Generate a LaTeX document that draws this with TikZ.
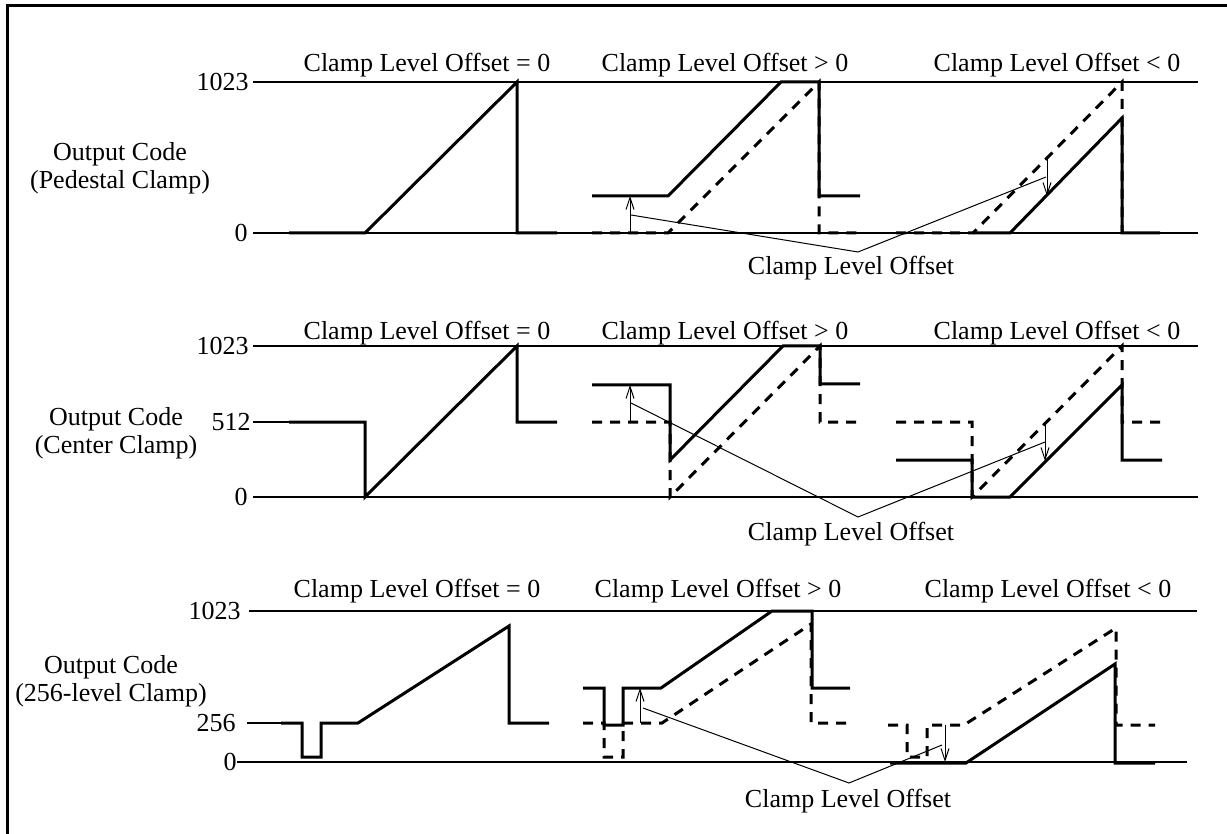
\documentclass[tikz,border=0pt]{standalone}
\usepackage{fontspec}
\setmainfont{Liberation Serif}
\usetikzlibrary{arrows.meta}
\tikzset{
  wave/.style={line width=1.5pt, line join=miter},
  ideal/.style={line width=1.5pt, dash pattern=on 5pt off 4pt},
  axis/.style={line width=1pt},
  lead/.style={line width=0.5pt},
  offarrow/.style={line width=0.5pt, -{Straight Barb[length=6pt,width=4pt]}},
  txt/.style={inner sep=0pt, font=\fontsize{13}{14}\selectfont}
}
% level label + horizontal level line
\newcommand{\codelevel}[6]{
  \node[txt, anchor=east] (#1) at (#3,#5) {#2};
  \draw[axis] ([xshift=#4]#1.east) -- (#6,#5);
}
\begin{document}
\begin{tikzpicture}[x=0.5pt,y=-0.5pt]
\useasboundingbox (0,0) rectangle (1227,834);
\draw[line width=1.5pt] (7.5,834) -- (7.5,6) -- (1227,6);

% titles of the three cases
\foreach \r/\yy/\xa/\xb/\xc in {A/65/427/725/1057,B/333/427/725/1057,C/591/417/718/1048}{
  \node[txt] (eq\r) at (\xa,\yy) {Clamp Level Offset = 0};
  \node[txt] (gt\r) at (\xb,\yy) {Clamp Level Offset > 0};
  \node[txt] (lt\r) at (\xc,\yy) {Clamp Level Offset < 0};
}

\node[txt, align=center] (nameA) at (120,168) {Output Code\\(Pedestal Clamp)};
\node[txt, align=center] (nameB) at (116,433) {Output Code\\(Center Clamp)};
\node[txt, align=center] (nameC) at (111,681) {Output Code\\(256-level Clamp)};

% pedestal clamp
\codelevel{hiA}{1023}{249}{2pt}{82}{1198}
\codelevel{loA}{0}{248}{2.5pt}{233}{1198}
\draw[wave] (289,233) -- (365,233) -- (517,82) -- (517,233) -- (557,233);
\draw[ideal] (592,233) -- (668,233) -- (819,82) -- (819,233) -- (860,233);
\draw[wave] (592,196) -- (668,196) -- (781,82) -- (819,82) -- (819,196) -- (860,196);
\draw[ideal] (896,233) -- (973,233) -- (1122,82) -- (1122,233);
\draw[wave] (973,233) -- (1010,233) -- (1122,118) -- (1122,233) -- (1160,233);
\coordinate (upA0) at (630,233);   \coordinate (upA1) at (630,196);
\coordinate (dnA0) at (1047,159);  \coordinate (dnA1) at (1047,196);
\draw[offarrow] (upA0) -- (upA1);
\draw[offarrow] (dnA0) -- (dnA1);
\coordinate (ftA1) at (631,215);
\coordinate (ftA2) at (1046,177);
\node[txt] (offA) at (851,268) {Clamp Level Offset};
\coordinate (vA) at (858,252);
\draw[lead] (ftA1) -- (vA) -- (ftA2);

% center clamp
\codelevel{hiB}{1023}{249}{2pt}{346}{1198}
\codelevel{midB}{512}{251}{1pt}{422}{289}
\codelevel{loB}{0}{248}{2.5pt}{497}{1198}
\draw[wave] (289,422) -- (365,422) -- (365,497) -- (517,346) -- (517,422) -- (557,422);
\draw[ideal] (592,422) -- (670,422) -- (670,497) -- (820,346) -- (820,422) -- (860,422);
\draw[wave] (592,385) -- (670,385) -- (670,460) -- (783,346) -- (820,346) -- (820,384) -- (860,384);
\draw[ideal] (896,422) -- (972,422) -- (972,497) -- (1122,346) -- (1122,422) -- (1162,422);
\draw[wave] (896,460) -- (972,460) -- (972,497) -- (1010,497) -- (1122,385) -- (1122,460) -- (1162,460);
\coordinate (upB0) at (630,422);   \coordinate (upB1) at (630,385);
\coordinate (dnB0) at (1045,424);  \coordinate (dnB1) at (1045,461);
\draw[offarrow] (upB0) -- (upB1);
\draw[offarrow] (dnB0) -- (dnB1);
\coordinate (ftB1) at (631,403);
\coordinate (ftB2) at (1045,442);
\node[txt] (offB) at (851,534) {Clamp Level Offset};
\coordinate (vB) at (858,517);
\draw[lead] (ftB1) -- (vB) -- (ftB2);

% 256-level clamp
\codelevel{hiC}{1023}{241}{4pt}{611}{1197}
\codelevel{midC}{256}{236}{5.5pt}{723}{281}
\codelevel{loC}{0}{237}{0pt}{762}{1187}
\draw[wave] (281,723) -- (302,723) -- (302,757) -- (321,757) -- (321,723) -- (358,723) -- (509,626) -- (509,723) -- (549,723);
\draw[ideal] (583,723) -- (604,723) -- (604,757) -- (623,757) -- (623,723) -- (662,723) -- (811,624) -- (811,723) -- (853,723);
\draw[wave] (583,688) -- (604,688) -- (604,725) -- (623,725) -- (623,688) -- (661,688) -- (772,611) -- (812,611) -- (812,688) -- (850,688);
\draw[ideal] (888,725) -- (907,725) -- (907,757) -- (927,757) -- (927,725) -- (964,725) -- (1116,628) -- (1116,725) -- (1155,725);
\draw[wave] (890,763) -- (966,763) -- (1115,664) -- (1115,763) -- (1155,763);
\coordinate (upC0) at (640,723);   \coordinate (upC1) at (640,688);
\coordinate (dnC0) at (945,725);   \coordinate (dnC1) at (945,762);
\draw[offarrow] (upC0) -- (upC1);
\draw[offarrow] (dnC0) -- (dnC1);
\coordinate (ftC1) at (643,708);
\coordinate (ftC2) at (942,745);
\node[txt] (offC) at (848,801) {Clamp Level Offset};
\coordinate (vC) at (849,783);
\draw[lead] (ftC1) -- (vC) -- (ftC2);
\end{tikzpicture}
\end{document}
